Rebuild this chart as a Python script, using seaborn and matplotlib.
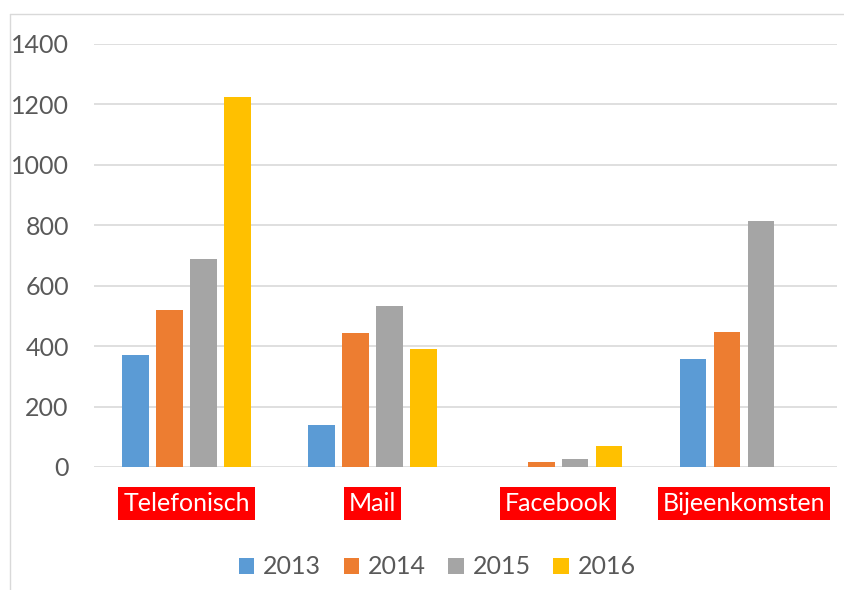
import matplotlib
matplotlib.use("Agg")
import matplotlib.pyplot as plt
import seaborn as sns
import pandas as pd
from matplotlib.lines import Line2D

# data
categories = ['Telefonisch', 'Mail', 'Facebook', 'Bijeenkomsten']
years = ['2013', '2014', '2015', '2016']
v2013 = [370, 139, 0, 358]
v2014 = [520, 443, 18, 448]
v2015 = [688, 533, 27, 812]
v2016 = [1224, 391, 70, 0]

colors = ['#5B9BD5', '#ED7D31', '#A5A5A5', '#FFC000']

rows = []
for year, vals in zip(years, [v2013, v2014, v2015, v2016]):
    for cat, v in zip(categories, vals):
        rows.append({'kanaal': cat, 'jaar': year, 'aantal': v})
df = pd.DataFrame(rows)

sns.set_theme(style='white')
plt.rcParams['font.family'] = ['Lato', 'DejaVu Sans']

fig = plt.figure(figsize=(8.44, 5.9), dpi=100)
ax = fig.add_axes([93.8 / 844, 123 / 590, 743 / 844, 423.3 / 590])

sns.barplot(data=df, x='kanaal', y='aantal', hue='jaar', order=categories,
            hue_order=years, palette=colors, saturation=1, width=0.731, gap=0.215,
            linewidth=0, ax=ax, legend=True)

ax.set_xlim(-0.5, 3.5)
ax.set_ylim(0, 1400)
ax.set_yticks(range(0, 1401, 200))
ax.yaxis.grid(True, color='#D9D9D9', linewidth=1.2)
ax.set_axisbelow(True)
for s in ax.spines.values():
    s.set_visible(False)
ax.set_xlabel('')
ax.set_ylabel('')
ax.tick_params(axis='y', length=0, pad=18, labelsize=18, labelcolor='#595959')
ax.tick_params(axis='x', length=0, pad=18, labelsize=18)
for lab in ax.get_xticklabels():
    lab.set_color('white')
    lab.set_bbox(dict(boxstyle='square,pad=0.2', facecolor='#FF0000', edgecolor='none'))

handles, labels = ax.get_legend_handles_labels()
ax.get_legend().remove()
fig.legend(handles, labels, ncol=4, loc='center', bbox_to_anchor=(0.518, 0.039),
           frameon=False, fontsize=18, labelcolor='#595959',
           handlelength=0.62, handleheight=0.62, handletextpad=0.35, columnspacing=0.9)

# chart frame border (left and top edges visible)
fig.add_artist(Line2D([9.5 / 844, 9.5 / 844], [0, 1 - 14 / 590], transform=fig.transFigure,
                      color='#D9D9D9', linewidth=1))
fig.add_artist(Line2D([9.5 / 844, 1], [1 - 14 / 590, 1 - 14 / 590], transform=fig.transFigure,
                      color='#D9D9D9', linewidth=1))

fig.savefig('out.png', dpi=100)
